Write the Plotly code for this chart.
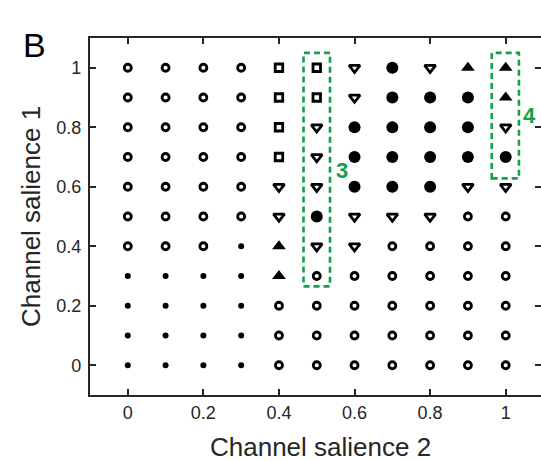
import plotly.graph_objects as go

# Grid of channel saliences
salience_2 = [0.0, 0.1, 0.2, 0.3, 0.4, 0.5, 0.6, 0.7, 0.8, 0.9, 1.0]
salience_1 = [1.0, 0.9, 0.8, 0.7, 0.6, 0.5, 0.4, 0.3, 0.2, 0.1, 0.0]

# Outcome class at each grid point, one row per salience_1 value (top to bottom)
# o: open circle, d: small dot, s: open square, v: open down-triangle,
# c: filled circle, a: filled up-triangle
outcome_rows = [
    ["o", "o", "o", "o", "s", "s", "v", "c", "v", "a", "a"],
    ["o", "o", "o", "o", "s", "s", "v", "c", "c", "c", "a"],
    ["o", "o", "o", "o", "s", "v", "c", "c", "c", "c", "v"],
    ["o", "o", "o", "o", "s", "v", "c", "c", "c", "c", "c"],
    ["o", "o", "o", "o", "v", "v", "c", "c", "c", "v", "v"],
    ["o", "o", "o", "o", "v", "c", "v", "v", "v", "o", "o"],
    ["o", "o", "o", "d", "a", "v", "v", "o", "o", "o", "o"],
    ["d", "d", "d", "d", "a", "o", "o", "o", "o", "o", "o"],
    ["d", "d", "d", "d", "o", "o", "o", "o", "o", "o", "o"],
    ["d", "d", "d", "d", "o", "o", "o", "o", "o", "o", "o"],
    ["d", "d", "d", "d", "o", "o", "o", "o", "o", "o", "o"],
]

# Highlighted columns: (x0, x1, y0, y1, label, label_x, label_y)
highlight_boxes = [
    (0.465, 0.535, 0.265, 1.05, "3", 0.566, 0.653),
    (0.963, 1.035, 0.628, 1.05, "4", 1.064, 0.841),
]

INK = "#262626"
GREEN = "#13a04a"
FONT = "Liberation Sans, Arial, Helvetica, sans-serif"

marker_styles = {
    "o": dict(symbol="circle-open", size=7, color="black", line=dict(width=2.8, color="black")),
    "d": dict(symbol="circle", size=6, color="black", line=dict(width=0)),
    "s": dict(symbol="square-open", size=7.5, color="black", line=dict(width=2.8, color="black")),
    "v": dict(symbol="triangle-down-open", size=9.5, color="black", line=dict(width=2.8, color="black")),
    "c": dict(symbol="circle", size=12, color="black", line=dict(width=0)),
    "a": dict(symbol="triangle-up", size=12, color="black", line=dict(width=0)),
}

fig = go.Figure()

for code, style in marker_styles.items():
    xs, ys = [], []
    for yv, row in zip(salience_1, outcome_rows):
        for xv, c in zip(salience_2, row):
            if c == code:
                xs.append(xv)
                ys.append(yv)
    fig.add_trace(go.Scatter(x=xs, y=ys, mode="markers", marker=style,
                             showlegend=False, hoverinfo="skip"))

# empty trace so the right-hand tick axis is drawn
fig.add_trace(go.Scatter(x=[], y=[], yaxis="y2", showlegend=False))

for x0, x1, y0, y1, label, lx, ly in highlight_boxes:
    fig.add_shape(type="rect", x0=x0, x1=x1, y0=y0, y1=y1, xref="x", yref="y",
                  line=dict(color=GREEN, width=2.6, dash="6px,4px"))
    fig.add_annotation(x=lx, y=ly, xref="x", yref="y", text=label, showarrow=False,
                       font=dict(family=FONT, size=22, color=GREEN, weight="bold"))

ticks = [0, 0.2, 0.4, 0.6, 0.8, 1]
tick_text = ["0", "0.2", "0.4", "0.6", "0.8", "1"]

fig.update_layout(
    width=541, height=461,
    margin=dict(l=90, r=0, t=38, b=66),
    paper_bgcolor="white", plot_bgcolor="white",
    font=dict(family=FONT, color=INK),
    xaxis=dict(range=[-0.1, 1.0934], tickvals=ticks, ticktext=tick_text,
               ticks="inside", ticklen=6, tickwidth=1.6, tickcolor=INK,
               showline=True, linewidth=2.2, linecolor=INK, mirror="ticks",
               showgrid=False, zeroline=False, tickfont=dict(size=18, color=INK)),
    yaxis=dict(range=[-0.1, 1.1], tickvals=ticks, ticktext=tick_text,
               ticks="inside", ticklen=6, tickwidth=1.6, tickcolor=INK,
               showline=True, linewidth=2.2, linecolor=INK, mirror=False,
               showgrid=False, zeroline=False, tickfont=dict(size=18, color=INK),
               ticklabelstandoff=3),
    yaxis2=dict(range=[-0.1, 1.1], tickvals=ticks, overlaying="y", side="right",
                anchor="x", ticks="inside", ticklen=6, tickwidth=1.6, tickcolor=INK,
                showline=False, showticklabels=False, showgrid=False, zeroline=False),
)

# axis titles and panel letter
fig.add_annotation(x=0.51, y=-0.146, xref="paper", yref="paper", yanchor="middle",
                   text="Channel salience 2", showarrow=False,
                   font=dict(family=FONT, size=26, color=INK))
fig.add_annotation(x=-0.132, y=0.5, xref="paper", yref="paper", xanchor="center",
                   text="Channel salience 1", showarrow=False, textangle=-90,
                   font=dict(family=FONT, size=26, color=INK))
fig.add_annotation(x=-0.152, y=1.04, xref="paper", yref="paper",
                   text="B", showarrow=False,
                   font=dict(family=FONT, size=34, color="black"))

fig.write_html("out.html")
